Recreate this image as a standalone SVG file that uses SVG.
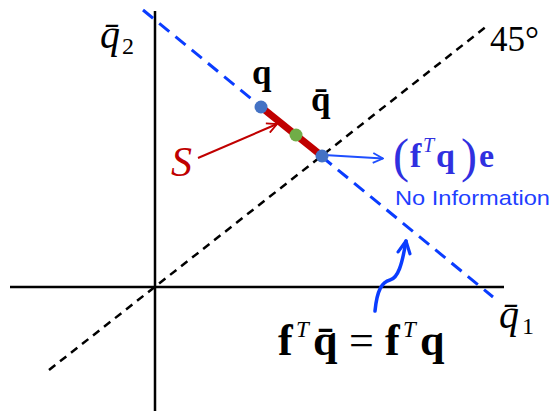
<svg xmlns="http://www.w3.org/2000/svg" width="553" height="413" viewBox="0 0 553 413">
<defs>
<style>
.axis{stroke:#000;stroke-width:2.5;fill:none}
.dk{stroke:#000;stroke-width:2.5;stroke-dasharray:8 6;fill:none}
.bl{stroke:#0A3CFF;stroke-width:3;stroke-dasharray:13 8;fill:none}
.math{font-family:"Liberation Serif","DejaVu Serif",serif}
.it{font-style:italic}
.bd{font-weight:bold}
</style>
<marker id="ar" viewBox="0 0 12 12" refX="11" refY="6" markerWidth="12" markerHeight="12" markerUnits="userSpaceOnUse" orient="auto">
<path d="M1,1 L11,6 L1,11" fill="none" stroke="#C00000" stroke-width="1.8"/>
</marker>
<marker id="ab" viewBox="0 0 12 12" refX="11" refY="6" markerWidth="12" markerHeight="12" markerUnits="userSpaceOnUse" orient="auto">
<path d="M1,1 L11,6 L1,11" fill="none" stroke="#1F4FFF" stroke-width="1.8"/>
</marker>
<marker id="ab2" viewBox="0 0 16 16" refX="14" refY="8" markerWidth="16" markerHeight="16" markerUnits="userSpaceOnUse" orient="auto">
<path d="M2,2 L14,8 L2,14" fill="none" stroke="#0A3CFF" stroke-width="3.2" stroke-linecap="round" stroke-linejoin="round"/>
</marker>
</defs>
<rect width="553" height="413" fill="#fff"/>
<g id="axes">
<line class="axis" x1="155" y1="11" x2="155" y2="411"/>
<line class="axis" x1="10" y1="287" x2="504" y2="287"/>
</g>
<g id="lines">
<line class="dk" x1="49" y1="370" x2="487" y2="26"/>
<line class="bl" x1="143" y1="10" x2="493" y2="297"/>
</g>
<g id="segment-S">
<line x1="261" y1="107" x2="322" y2="156" stroke="#C00000" stroke-width="7"/>
</g>
<g id="connectors">
<line x1="198" y1="158" x2="277" y2="124" stroke="#C00000" stroke-width="2" marker-end="url(#ar)"/>
<line x1="324" y1="155" x2="383" y2="158.5" stroke="#1F4FFF" stroke-width="2" marker-end="url(#ab)"/>
<path d="M375,311 C377,290 382,282 390,280 C398,278 402,265 406,241" fill="none" stroke="#0A3CFF" stroke-width="3.5" stroke-linecap="round" marker-end="url(#ab2)"/>
</g>
<g id="point-q"><circle cx="261" cy="107" r="6.5" fill="#4472C4"/></g>
<g id="point-qbar"><circle cx="296" cy="135" r="6.5" fill="#70AD47"/></g>
<g id="point-proj"><circle cx="322" cy="156" r="6.5" fill="#4472C4"/></g>
<g id="labels">
<text class="math it" x="100" y="48" font-size="40">q̄<tspan x="122" y="54" font-size="24" font-style="normal">2</tspan></text>
<text class="math it" x="499" y="328" font-size="40">q̄<tspan x="522" y="334" font-size="24" font-style="normal">1</tspan></text>
<text class="math" x="490" y="51" font-size="35">45°</text>
<text class="math bd" x="252" y="84" font-size="35">q</text>
<text class="math bd" x="311" y="111" font-size="35">q̄</text>
<text class="math it" x="171" y="176" font-size="42" fill="#C00000">S</text>
<text class="math" fill="#3030E0" font-size="34"><tspan x="393" y="172" font-size="48">(</tspan><tspan x="410" y="167" font-weight="bold">f</tspan><tspan x="423" y="152" font-size="20" font-style="italic">T</tspan><tspan x="436" y="167" font-weight="bold">q</tspan><tspan x="461" y="172" font-size="48">)</tspan><tspan x="479" y="167" font-weight="bold">e</tspan></text>
<text x="395" y="205" font-family="Liberation Sans, Arial, sans-serif" font-size="21" fill="#1F3FFF" textLength="155" lengthAdjust="spacingAndGlyphs">No Information</text>
<text class="math" font-size="44"><tspan x="278" y="355" font-weight="bold">f</tspan><tspan x="296" y="337" font-size="23" font-style="italic">T</tspan><tspan x="313" y="355" font-weight="bold">q̄</tspan><tspan x="349" y="355">=</tspan><tspan x="385" y="355" font-weight="bold">f</tspan><tspan x="403" y="337" font-size="23" font-style="italic">T</tspan><tspan x="420" y="355" font-weight="bold">q</tspan></text>
</g>
</svg>
